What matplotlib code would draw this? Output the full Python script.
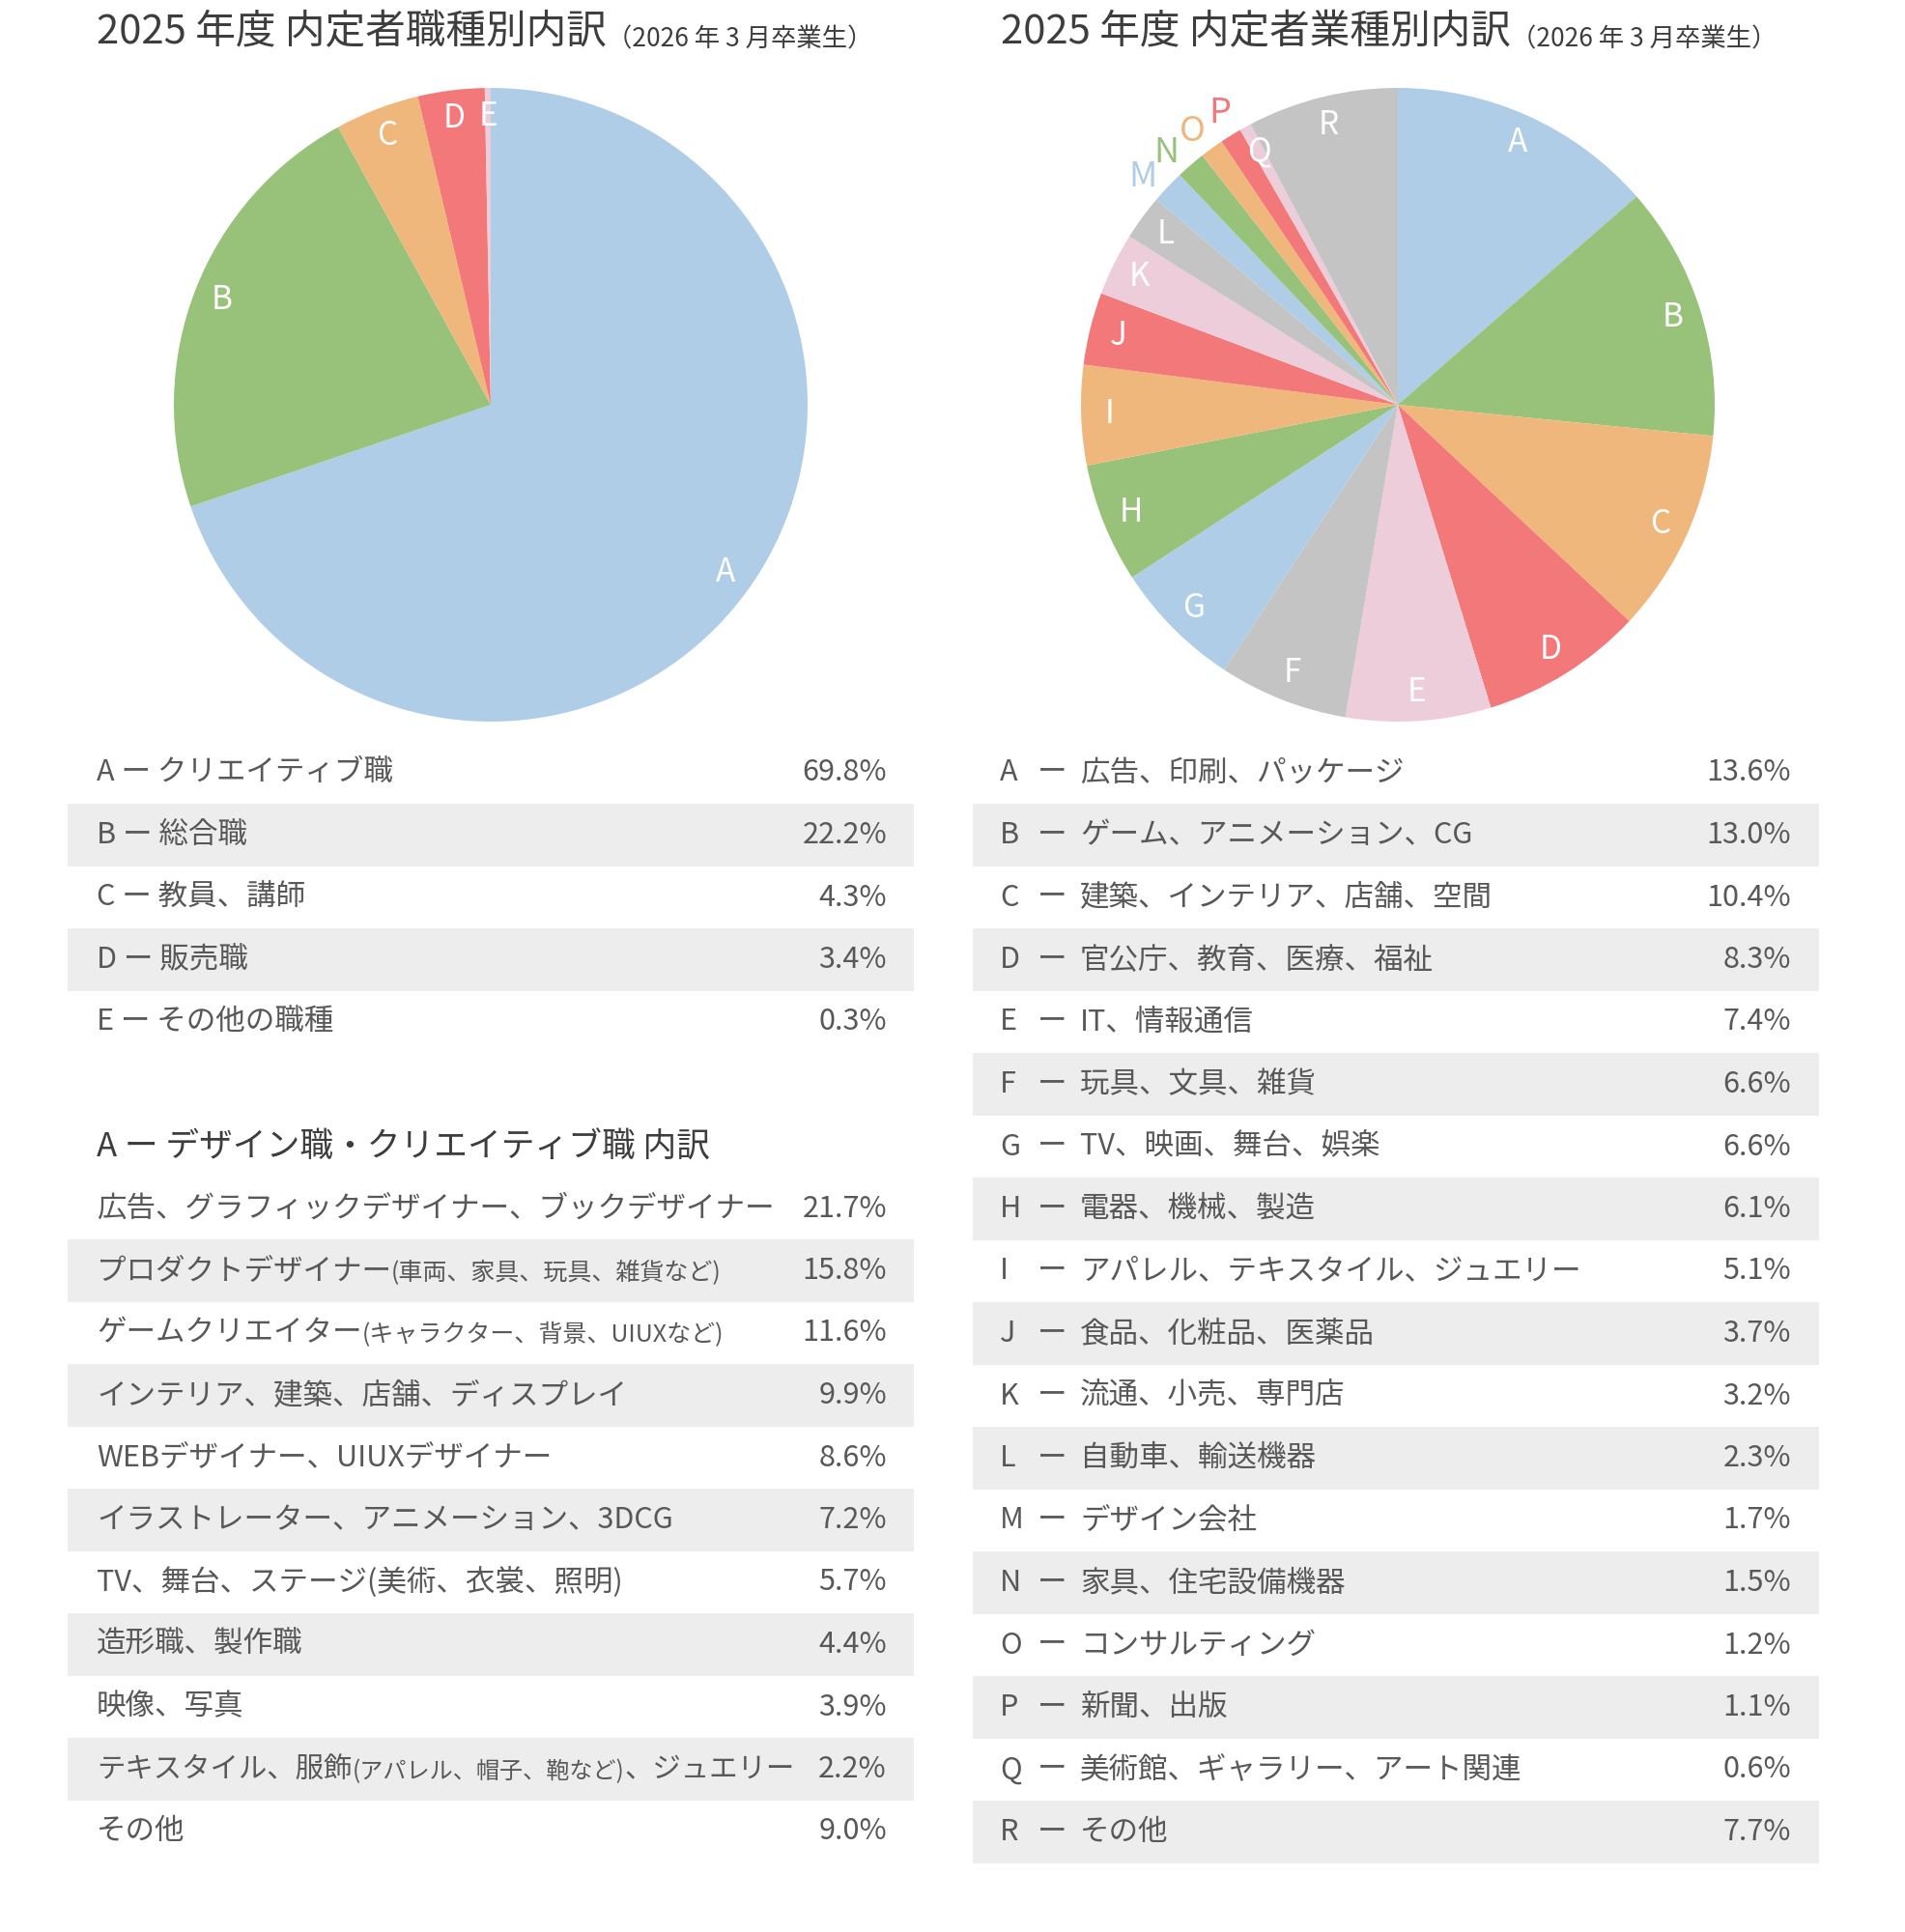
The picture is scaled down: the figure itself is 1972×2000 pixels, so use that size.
import matplotlib
matplotlib.use("Agg")
import matplotlib.pyplot as plt
from matplotlib.patches import Rectangle
import numpy as np

plt.rcParams['font.family'] = ['Noto Sans CJK JP', 'DejaVu Sans']

# --- data ---
job_letters = ["A", "B", "C", "D", "E"]
job_names = ["クリエイティブ職", "総合職", "教員、講師", "販売職", "その他の職種"]
job_share = [69.8, 22.2, 4.3, 3.4, 0.3]

design_names = ["広告、グラフィックデザイナー、ブックデザイナー", "プロダクトデザイナー",
                "ゲームクリエイター", "インテリア、建築、店舗、ディスプレイ",
                "WEBデザイナー、UIUXデザイナー", "イラストレーター、アニメーション、3DCG",
                "TV、舞台、ステージ(美術、衣裳、照明)", "造形職、製作職", "映像、写真",
                "テキスタイル、服飾", "その他"]
design_notes = ["", "(車両、家具、玩具、雑貨など)", "(キャラクター、背景、UIUXなど)", "", "",
                "", "", "", "", "(アパレル、帽子、鞄など)", ""]
design_tails = ["", "", "", "", "", "", "", "", "", "、ジュエリー", ""]
design_share = [21.7, 15.8, 11.6, 9.9, 8.6, 7.2, 5.7, 4.4, 3.9, 2.2, 9.0]

ind_letters = list("ABCDEFGHIJKLMNOPQR")
ind_names = ["広告、印刷、パッケージ", "ゲーム、アニメーション、CG", "建築、インテリア、店舗、空間",
             "官公庁、教育、医療、福祉", "IT、情報通信", "玩具、文具、雑貨", "TV、映画、舞台、娯楽",
             "電器、機械、製造", "アパレル、テキスタイル、ジュエリー", "食品、化粧品、医薬品",
             "流通、小売、専門店", "自動車、輸送機器", "デザイン会社", "家具、住宅設備機器",
             "コンサルティング", "新聞、出版", "美術館、ギャラリー、アート関連", "その他"]
ind_share = [13.6, 13.0, 10.4, 8.3, 7.4, 6.6, 6.6, 6.1, 5.1, 3.7, 3.2, 2.3, 1.7, 1.5,
             1.2, 1.1, 0.6, 7.7]
outside_labels = ["M", "N", "O", "P"]

W, H = 1972, 2000
TEXT = "#585858"
DARK = "#3d3d3d"
SHADE = "#ededed"
palette = ["#afcde6", "#98c17a", "#f0b77c", "#f2787a", "#edcdda", "#c4c4c4"]

fig = plt.figure(figsize=(W / 100, H / 100), dpi=100)
bg = fig.add_axes([0, 0, 1, 1])
bg.set_xlim(0, W)
bg.set_ylim(H, 0)
bg.axis("off")


def pie_axes(cx, cy, r):
    pad = 1.2
    return fig.add_axes([(cx - pad * r) / W, 1 - (cy + pad * r) / H,
                         2 * pad * r / W, 2 * pad * r / H])


def draw_pie(ax, values, letters, outside=()):
    colors = [palette[i % len(palette)] for i in range(len(values))]
    wedges, texts = ax.pie(values, labels=letters, colors=colors, startangle=90,
                           counterclock=False, labeldistance=0.91,
                           wedgeprops=dict(linewidth=0),
                           textprops=dict(color="white", fontsize=24))
    outer = []
    for w, t in zip(wedges, texts):
        t.set_ha("center")
        t.set_va("center")
        if t.get_text() in outside:
            outer.append(((w.theta1 + w.theta2) / 2, w, t))
    if outer:
        # small slices: coloured letters just outside the rim, spread evenly
        centre = np.mean([m for m, _, _ in outer]) + 1.0
        gap = 5.6
        n = len(outer)
        for i, (m, w, t) in enumerate(outer):
            ang = np.deg2rad(centre + ((n - 1) / 2 - i) * gap)
            t.set_position((1.08 * np.cos(ang), 1.08 * np.sin(ang)))
            t.set_color(w.get_facecolor())
            t.set_fontsize(26)
    ax.set_xlim(-1.2, 1.2)
    ax.set_ylim(-1.2, 1.2)
    ax.set_aspect("equal")
    ax.axis("off")


rows = []  # (x, artists, limit)


def seg_text(x, y, segs, color, limit):
    arts = [bg.text(x, y, segs[0][0], fontsize=segs[0][1], color=color,
                    ha="left", va="center")]
    for s, fs in segs[1:]:
        if not s:
            continue
        arts.append(bg.annotate(s, xy=(1, 0), xycoords=arts[-1], fontsize=fs,
                                color=color, ha="left", va="bottom"))
    rows.append((x, arts, limit))


def title(x, main, sub):
    t = bg.text(x, 45, main, fontsize=30, color=DARK, ha="left", va="baseline")
    bg.annotate(sub, xy=(1, 0), xycoords=t, fontsize=19, color=DARK,
                ha="left", va="bottom")


title(100, "2025 年度 内定者職種別内訳", "（2026 年 3 月卒業生）")
title(1036, "2025 年度 内定者業種別内訳", "（2026 年 3 月卒業生）")

draw_pie(pie_axes(508, 419, 328), job_share, job_letters)
draw_pie(pie_axes(1447, 419, 328), ind_share, ind_letters, outside_labels)

step = 64.5
FS = 22

# left table: job types
for i, (l, n, v) in enumerate(zip(job_letters, job_names, job_share)):
    y = 800 + i * step
    if i % 2 == 1:
        bg.add_patch(Rectangle((70, y - step / 2), 876, step, color=SHADE, lw=0, zorder=0))
    seg_text(100, y, [(f"{l} ー {n}", FS)], TEXT, 820)
    bg.text(918, y, f"{v:.1f}%", fontsize=FS, color=TEXT, ha="right", va="center")

# left sub table: breakdown of A
bg.text(100, 1188, "A ー デザイン職・クリエイティブ職 内訳", fontsize=25, color=DARK,
        ha="left", va="center")
for i, (n, note, tail, v) in enumerate(zip(design_names, design_notes, design_tails, design_share)):
    y = 1251 + i * step
    if i % 2 == 1:
        bg.add_patch(Rectangle((70, y - step / 2), 876, step, color=SHADE, lw=0, zorder=0))
    seg_text(100, y, [(n, FS), (note, 18), (tail, FS)], TEXT, 822)
    bg.text(918, y, f"{v:.1f}%", fontsize=FS, color=TEXT, ha="right", va="center")

# right table: industries
for i, (l, n, v) in enumerate(zip(ind_letters, ind_names, ind_share)):
    y = 800 + i * step
    if i % 2 == 1:
        bg.add_patch(Rectangle((1007, y - step / 2), 876, step, color=SHADE, lw=0, zorder=0))
    bg.text(1035, y, l, fontsize=FS, color=TEXT, ha="left", va="center")
    bg.text(1074, y, "ー", fontsize=FS, color=TEXT, ha="left", va="center")
    seg_text(1118, y, [(n, FS)], TEXT, 1760)
    bg.text(1854, y, f"{v:.1f}%", fontsize=FS, color=TEXT, ha="right", va="center")

# shrink labels that run into the value column
fig.canvas.draw()
renderer = fig.canvas.get_renderer()
for x, arts, limit in rows:
    right = arts[-1].get_window_extent(renderer).x1
    if right > limit:
        k = (limit - x) / (right - x)
        for a in arts:
            a.set_fontsize(a.get_fontsize() * k)

fig.savefig("out.png", dpi=100)
